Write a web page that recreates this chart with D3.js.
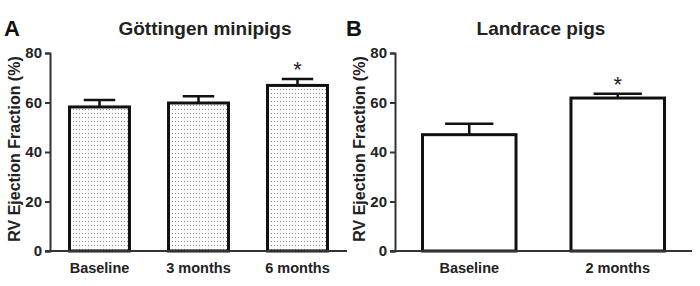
<!DOCTYPE html>
<html>
<head>
<meta charset="utf-8">
<script src="https://cdn.jsdelivr.net/npm/d3@7"></script>
<style>
  body { margin: 0; background: #fff; }
  svg { display: block; font-family: Arial, "Liberation Sans", Helvetica, sans-serif; }
</style>
</head>
<body>
<svg id="chart" width="700" height="286"></svg>
<script>
// ---- Data ----
const categoriesA = ["Baseline", "3 months", "6 months"];
const valuesA = [58.2, 59.8, 66.9];
const errorsA = [2.8, 2.7, 2.6];
const signifA = [false, false, true];

const categoriesB = ["Baseline", "2 months"];
const valuesB = [47.0, 61.8];
const errorsB = [4.4, 1.7];
const signifB = [false, true];

const yTicks = [0, 20, 40, 60, 80];
const yLabel = "RV Ejection Fraction (%)";
const titleA = "Göttingen minipigs";
const titleB = "Landrace pigs";

// ---- Drawing ----
const svg = d3.select("#chart");

const defs = svg.append("defs");
const pat = defs.append("pattern")
  .attr("id", "dots")
  .attr("patternUnits", "userSpaceOnUse")
  .attr("width", 3).attr("height", 4);
pat.append("rect").attr("width", 3).attr("height", 4).attr("fill", "#fff");
pat.append("rect").attr("x", 1).attr("y", 1).attr("width", 1).attr("height", 1).attr("fill", "#8c8c8c");

function panel(opts) {
  const { letter, letterX, title, titleX, cats, vals, errs, sig, x0, x1, pin, fill, labelX } = opts;
  const g = svg.append("g");
  const y = d3.scaleLinear().domain([0, 80]).range([251, 53]);
  const x = d3.scaleBand().domain(cats).range([x0, x1]).paddingInner(pin).paddingOuter(pin / 2);

  // letter
  g.append("text").attr("x", letterX).attr("y", 36)
    .attr("font-size", 22).attr("font-weight", "bold").attr("fill", "#111").text(letter);
  // title
  g.append("text").attr("x", titleX).attr("y", 35).attr("text-anchor", "middle")
    .attr("font-size", 19).attr("font-weight", "bold").attr("fill", "#222").text(title);

  // y label
  g.append("text")
    .attr("transform", `translate(${labelX},${149}) rotate(-90)`)
    .attr("text-anchor", "middle")
    .attr("font-size", 16).attr("font-weight", "bold").attr("fill", "#222")
    .text(yLabel);

  // bars
  const bw = x.bandwidth();
  g.selectAll("rect.bar").data(vals).enter().append("rect")
    .attr("class", "bar")
    .attr("x", (d, i) => x(cats[i]) + 1.5)
    .attr("y", d => y(d))
    .attr("width", bw - 3)
    .attr("height", d => y(0) - y(d))
    .attr("fill", fill)
    .attr("stroke", "#111").attr("stroke-width", 3);

  // error bars
  vals.forEach((d, i) => {
    const cx = x(cats[i]) + bw / 2;
    const top = y(d + errs[i]);
    g.append("line").attr("x1", cx).attr("x2", cx).attr("y1", y(d)).attr("y2", top)
      .attr("stroke", "#111").attr("stroke-width", 2.5);
    g.append("line").attr("x1", cx - bw / 4).attr("x2", cx + bw / 4).attr("y1", top).attr("y2", top)
      .attr("stroke", "#111").attr("stroke-width", 2.5);
    if (sig[i]) {
      g.append("text").attr("x", cx).attr("y", top - 2).attr("text-anchor", "middle")
        .attr("font-size", 22).attr("fill", "#222").text("*");
    }
  });

  // y axis
  const yAxis = d3.axisLeft(y).tickValues(yTicks).tickSize(5).tickPadding(3);
  const ya = g.append("g").attr("transform", `translate(${x0},0)`).call(yAxis);
  ya.select(".domain").attr("stroke", "#333").attr("stroke-width", 2);
  ya.selectAll(".tick line").attr("stroke", "#333").attr("stroke-width", 2);
  ya.selectAll(".tick text").attr("font-size", 15).attr("font-weight", "bold")
    .attr("fill", "#222").attr("font-family", "Arial, 'Liberation Sans', sans-serif");

  // x axis
  const xAxis = d3.axisBottom(x).tickSize(0).tickPadding(12);
  const xa = g.append("g").attr("transform", `translate(0,${y(0)})`).call(xAxis);
  xa.select(".domain").attr("stroke", "#333").attr("stroke-width", 2)
    .attr("d", `M${x0 - 5},0H${x1}`);
  xa.selectAll(".tick text").attr("font-size", 14.5).attr("font-weight", "bold")
    .attr("fill", "#222").attr("font-family", "Arial, 'Liberation Sans', sans-serif");
}

panel({
  letter: "A", letterX: 4, title: titleA, titleX: 205,
  cats: categoriesA, vals: valuesA, errs: errorsA, sig: signifA,
  x0: 50, x1: 347, pin: 0.364, fill: "url(#dots)", labelX: 20
});
panel({
  letter: "B", letterX: 346, title: titleB, titleX: 541,
  cats: categoriesB, vals: valuesB, errs: errorsB, sig: signifB,
  x0: 395, x1: 692, pin: 0.35, fill: "#fff", labelX: 365
});
</script>
</body>
</html>
